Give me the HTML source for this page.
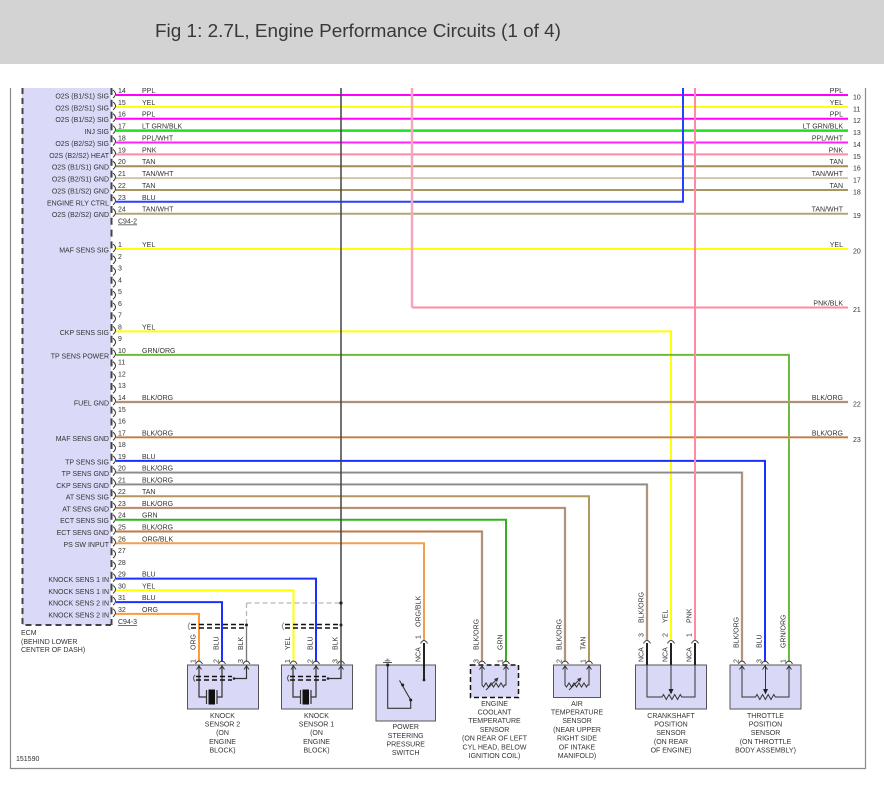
<!DOCTYPE html>
<html><head><meta charset="utf-8"><style>
html,body{margin:0;padding:0;background:#fff;}
svg{display:block;}
text{font-family:"Liberation Sans",Arial,sans-serif;fill:#333;}
.s{font-size:7px;}
.m{font-size:7px;text-anchor:middle;}
.e{font-size:7px;text-anchor:end;}
</style></head><body>
<svg width="884" height="790" viewBox="0 0 884 790" xmlns="http://www.w3.org/2000/svg">
<rect width="884" height="790" fill="#fff"/>
<rect width="884" height="64" fill="#d3d3d3"/>
<text x="155" y="37" font-size="18" textLength="406" lengthAdjust="spacingAndGlyphs" style="fill:#383838">Fig 1: 2.7L, Engine Performance Circuits (1 of 4)</text>

<!-- frame -->
<path d="M10.5 88 V768.5 H865.5 V88" fill="none" stroke="#8a8a8a" stroke-width="1.2"/>

<!-- ECM box -->
<rect x="22" y="88" width="89" height="537" fill="#dadaf8"/>
<path d="M22.5 88 V625 H111" fill="none" stroke="#444" stroke-width="2" stroke-dasharray="6,4"/>
<path d="M111.5 88 V625" stroke="#444" stroke-width="2" stroke-dasharray="7,4.8"/>

<!-- horizontal wires block A -->
<g fill="none" stroke-width="2">
<path d="M116 95 H848" stroke="#ff00ff"/>
<path d="M116 106.9 H848" stroke="#ffff00"/>
<path d="M116 118.7 H848" stroke="#ff00ff"/>
<path d="M116 130.6 H848" stroke="#22dd22" stroke-width="2.5"/>
<path d="M116 142.5 H848" stroke="#ff22ff"/>
<path d="M116 154.4 H848" stroke="#ff8aa5"/>
<path d="M116 166.2 H848" stroke="#a48c5c"/>
<path d="M116 178.1 H848" stroke="#cfc5a8"/>
<path d="M116 190 H848" stroke="#a89660"/>
<path d="M116 201.8 H683 V88" stroke="#2840ff"/>
<path d="M116 213.7 H848" stroke="#b4a47a"/>
</g>

<!-- horizontal wires block B -->
<g fill="none" stroke-width="2">
<path d="M116 249 H848" stroke="#ffff00"/>
<path d="M412 307.5 H848" stroke="#ff8aa5"/>
<path d="M116 331.4 H671 V641" stroke="#ffff00"/>
<path d="M116 354.9 H789 V662" stroke="#6cbb3c"/>
<path d="M116 460.9 H765 V662" stroke="#1a30ff"/>
<path d="M116 496.2 H589 V662" stroke="#b09860"/>
<path d="M116 519.7 H506 V662" stroke="#33b020"/>
<path d="M116 543.3 H424 V641" stroke="#f0a050"/>
<path d="M116 578.6 H316 V662" stroke="#1a30ff"/>
<path d="M116 590.4 H293.5 V662" stroke="#ffff00"/>
<path d="M116 602.1 H222 V662" stroke="#1a30ff"/>
<path d="M116 613.9 H199 V662" stroke="#ff9a3a"/>
<!-- BLK/ORG -->
<g stroke="#f4b07a" stroke-width="2.4">
<path d="M116 402 H848"/><path d="M116 437.3 H848"/>
<path d="M116 472.6 H742 V662"/><path d="M116 484.4 H647 V641"/>
<path d="M116 507.9 H565 V662"/><path d="M116 531.5 H482 V662"/>
</g>
<g stroke="#8a8a8a" stroke-width="1.4">
<path d="M116 402 H848"/><path d="M116 437.3 H848"/>
<path d="M116 472.6 H742 V662"/><path d="M116 484.4 H647 V641"/>
<path d="M116 507.9 H565 V662"/><path d="M116 531.5 H482 V662"/>
</g>
</g>

<!-- verticals -->
<path d="M341 88 V665" stroke="#444" stroke-width="1.5"/>
<path d="M412 88 V307.5" stroke="#f3a9bb" stroke-width="2.5"/>
<path d="M695 88 V641" stroke="#ff8aa5" stroke-width="2"/>

<!-- connector brackets at ECM -->
<path fill="none" stroke="#333" stroke-width="1" d="M113 90 Q118 94 113 98 M113 101.9 Q118 105.9 113 109.9 M113 113.7 Q118 117.7 113 121.7 M113 125.6 Q118 129.6 113 133.6 M113 137.5 Q118 141.5 113 145.5 M113 149.4 Q118 153.4 113 157.4 M113 161.2 Q118 165.2 113 169.2 M113 173.1 Q118 177.1 113 181.1 M113 185 Q118 189 113 193 M113 196.8 Q118 200.8 113 204.8 M113 208.7 Q118 212.7 113 216.7
M113 244 Q118 248 113 252 M113 255.8 Q118 259.8 113 263.8 M113 267.5 Q118 271.5 113 275.5 M113 279.3 Q118 283.3 113 287.3 M113 291.1 Q118 295.1 113 299.1 M113 302.9 Q118 306.9 113 310.9 M113 314.6 Q118 318.6 113 322.6 M113 326.4 Q118 330.4 113 334.4 M113 338.2 Q118 342.2 113 346.2 M113 349.9 Q118 353.9 113 357.9 M113 361.7 Q118 365.7 113 369.7 M113 373.5 Q118 377.5 113 381.5 M113 385.2 Q118 389.2 113 393.2 M113 397 Q118 401 113 405 M113 408.8 Q118 412.8 113 416.8 M113 420.6 Q118 424.6 113 428.6 M113 432.3 Q118 436.3 113 440.3 M113 444.1 Q118 448.1 113 452.1 M113 455.9 Q118 459.9 113 463.9 M113 467.6 Q118 471.6 113 475.6 M113 479.4 Q118 483.4 113 487.4 M113 491.2 Q118 495.2 113 499.2 M113 502.9 Q118 506.9 113 510.9 M113 514.7 Q118 518.7 113 522.7 M113 526.5 Q118 530.5 113 534.5 M113 538.3 Q118 542.3 113 546.3 M113 550 Q118 554 113 558 M113 561.8 Q118 565.8 113 569.8 M113 573.6 Q118 577.6 113 581.6 M113 585.4 Q118 589.4 113 593.4 M113 597.1 Q118 601.1 113 605.1 M113 608.9 Q118 612.9 113 616.9"/>

<!-- pin numbers -->
<g class="s">
<text class="s" x="118" y="93">14</text><text class="s" x="118" y="104.9">15</text><text class="s" x="118" y="116.7">16</text><text class="s" x="118" y="128.6">17</text><text class="s" x="118" y="140.5">18</text><text class="s" x="118" y="152.4">19</text><text class="s" x="118" y="164.2">20</text><text class="s" x="118" y="176.1">21</text><text class="s" x="118" y="188">22</text><text class="s" x="118" y="199.8">23</text><text class="s" x="118" y="211.7">24</text>
<text class="s" x="118" y="247">1</text><text class="s" x="118" y="258.8">2</text><text class="s" x="118" y="270.5">3</text><text class="s" x="118" y="282.3">4</text><text class="s" x="118" y="294.1">5</text><text class="s" x="118" y="305.9">6</text><text class="s" x="118" y="317.6">7</text><text class="s" x="118" y="329.4">8</text><text class="s" x="118" y="341.2">9</text><text class="s" x="118" y="352.9">10</text><text class="s" x="118" y="364.7">11</text><text class="s" x="118" y="376.5">12</text><text class="s" x="118" y="388.2">13</text><text class="s" x="118" y="400">14</text><text class="s" x="118" y="411.8">15</text><text class="s" x="118" y="423.6">16</text><text class="s" x="118" y="435.3">17</text><text class="s" x="118" y="447.1">18</text><text class="s" x="118" y="458.9">19</text><text class="s" x="118" y="470.6">20</text><text class="s" x="118" y="482.4">21</text><text class="s" x="118" y="494.2">22</text><text class="s" x="118" y="505.9">23</text><text class="s" x="118" y="517.7">24</text><text class="s" x="118" y="529.5">25</text><text class="s" x="118" y="541.3">26</text><text class="s" x="118" y="553">27</text><text class="s" x="118" y="564.8">28</text><text class="s" x="118" y="576.6">29</text><text class="s" x="118" y="588.4">30</text><text class="s" x="118" y="600.1">31</text><text class="s" x="118" y="611.9">32</text>
</g>

<!-- wire labels left -->
<text class="s" x="142" y="93">PPL</text><text class="s" x="142" y="104.9">YEL</text><text class="s" x="142" y="116.7">PPL</text><text class="s" x="142" y="128.6">LT GRN/BLK</text><text class="s" x="142" y="140.5">PPL/WHT</text><text class="s" x="142" y="152.4">PNK</text><text class="s" x="142" y="164.2">TAN</text><text class="s" x="142" y="176.1">TAN/WHT</text><text class="s" x="142" y="188">TAN</text><text class="s" x="142" y="199.8">BLU</text><text class="s" x="142" y="211.7">TAN/WHT</text>
<text class="s" x="142" y="247">YEL</text><text class="s" x="142" y="329.4">YEL</text><text class="s" x="142" y="352.9">GRN/ORG</text><text class="s" x="142" y="400">BLK/ORG</text><text class="s" x="142" y="435.3">BLK/ORG</text><text class="s" x="142" y="458.9">BLU</text><text class="s" x="142" y="470.6">BLK/ORG</text><text class="s" x="142" y="482.4">BLK/ORG</text><text class="s" x="142" y="494.2">TAN</text><text class="s" x="142" y="505.9">BLK/ORG</text><text class="s" x="142" y="517.7">GRN</text><text class="s" x="142" y="529.5">BLK/ORG</text><text class="s" x="142" y="541.3">ORG/BLK</text><text class="s" x="142" y="576.6">BLU</text><text class="s" x="142" y="588.4">YEL</text><text class="s" x="142" y="600.1">BLU</text><text class="s" x="142" y="611.9">ORG</text>

<text class="s" x="118" y="223.5" text-decoration="underline">C94-2</text>
<text class="s" x="118" y="624.2" text-decoration="underline">C94-3</text>

<!-- ECM labels -->
<text class="e" x="109" y="98.5">O2S (B1/S1) SIG</text><text class="e" x="109" y="110.4">O2S (B2/S1) SIG</text><text class="e" x="109" y="122.2">O2S (B1/S2) SIG</text><text class="e" x="109" y="134.1">INJ SIG</text><text class="e" x="109" y="146">O2S (B2/S2) SIG</text><text class="e" x="109" y="157.9">O2S (B2/S2) HEAT</text><text class="e" x="109" y="169.7">O2S (B1/S1) GND</text><text class="e" x="109" y="181.6">O2S (B2/S1) GND</text><text class="e" x="109" y="193.5">O2S (B1/S2) GND</text><text class="e" x="109" y="205.3">ENGINE RLY CTRL</text><text class="e" x="109" y="217.2">O2S (B2/S2) GND</text>
<text class="e" x="109" y="252.5">MAF SENS SIG</text><text class="e" x="109" y="334.9">CKP SENS SIG</text><text class="e" x="109" y="358.4">TP SENS POWER</text><text class="e" x="109" y="405.5">FUEL GND</text><text class="e" x="109" y="440.8">MAF SENS GND</text><text class="e" x="109" y="464.4">TP SENS SIG</text><text class="e" x="109" y="476.1">TP SENS GND</text><text class="e" x="109" y="487.9">CKP SENS GND</text><text class="e" x="109" y="499.7">AT SENS SIG</text><text class="e" x="109" y="511.4">AT SENS GND</text><text class="e" x="109" y="523.2">ECT SENS SIG</text><text class="e" x="109" y="535">ECT SENS GND</text><text class="e" x="109" y="546.8">PS SW INPUT</text><text class="e" x="109" y="582.1">KNOCK SENS 1 IN</text><text class="e" x="109" y="593.9">KNOCK SENS 1 IN</text><text class="e" x="109" y="605.6">KNOCK SENS 2 IN</text><text class="e" x="109" y="617.4">KNOCK SENS 2 IN</text>

<text class="s" x="21" y="634.8">ECM</text>
<text class="s" x="21" y="643.8">(BEHIND LOWER</text>
<text class="s" x="21" y="652.2">CENTER OF DASH)</text>

<!-- right labels -->
<text class="e" x="843" y="93">PPL</text><text class="e" x="843" y="104.9">YEL</text><text class="e" x="843" y="116.7">PPL</text><text class="e" x="843" y="128.6">LT GRN/BLK</text><text class="e" x="843" y="140.5">PPL/WHT</text><text class="e" x="843" y="152.4">PNK</text><text class="e" x="843" y="164.2">TAN</text><text class="e" x="843" y="176.1">TAN/WHT</text><text class="e" x="843" y="188">TAN</text><text class="e" x="843" y="211.7">TAN/WHT</text><text class="e" x="843" y="247">YEL</text><text class="e" x="843" y="305.5">PNK/BLK</text><text class="e" x="843" y="400">BLK/ORG</text><text class="e" x="843" y="435.3">BLK/ORG</text>
<text class="s" x="853" y="99.5">10</text><text class="s" x="853" y="111.4">11</text><text class="s" x="853" y="123.2">12</text><text class="s" x="853" y="135.1">13</text><text class="s" x="853" y="147">14</text><text class="s" x="853" y="158.9">15</text><text class="s" x="853" y="170.7">16</text><text class="s" x="853" y="182.6">17</text><text class="s" x="853" y="194.5">18</text><text class="s" x="853" y="218.2">19</text><text class="s" x="853" y="253.5">20</text><text class="s" x="853" y="312">21</text><text class="s" x="853" y="406.5">22</text><text class="s" x="853" y="441.8">23</text>

<!-- knock sensor shields outside -->
<path d="M246.5 603 H341 M246.5 603 V625" fill="none" stroke="#b8b8b8" stroke-width="1.3" stroke-dasharray="5,3"/>
<circle cx="341" cy="603" r="1.6" fill="#222"/>
<path d="M191 624.5 H246.5 M191 628 H246.5 M285 624.5 H341 M285 628 H341" stroke="#111" stroke-width="1.6" stroke-dasharray="5,3"/>
<path d="M190 622.5 Q186.5 626.25 190 630 M284 622.5 Q280.5 626.25 284 630" fill="none" stroke="#999"/>
<circle cx="246.5" cy="625" r="1.5" fill="#222"/>
<circle cx="341" cy="625" r="1.5" fill="#222"/>
<path d="M246.5 626 V662" stroke="#777" stroke-width="1.3"/>

<!-- sensor boxes -->
<g fill="#d9d9f7" stroke="#555" stroke-width="1">
<rect x="187.5" y="665" width="71" height="44"/>
<rect x="281.5" y="665" width="71" height="44"/>
<rect x="376" y="665" width="59.5" height="56"/>
<rect x="553.5" y="665" width="47" height="32.5"/>
<rect x="635.5" y="665" width="71" height="44"/>
<rect x="730" y="665" width="71" height="44"/>
</g>
<rect x="470.5" y="665" width="48" height="32.5" fill="#d9d9f7" stroke="#111" stroke-width="1.5" stroke-dasharray="5,3"/>

<!-- connector caps at box tops -->
<path fill="none" stroke="#444" stroke-width="1" d="M195.5 664 Q199 658 202.5 664 M218.5 664 Q222 658 225.5 664 M243 664 Q246.5 658 250 664 M290 664 Q293.5 658 297 664 M312.5 664 Q316 658 319.5 664 M337.5 664 Q341 658 344.5 664 M478.5 664 Q482 658 485.5 664 M502.5 664 Q506 658 509.5 664 M561.5 664 Q565 658 568.5 664 M585.5 664 Q589 658 592.5 664 M738.5 664 Q742 658 745.5 664 M761.5 664 Q765 658 768.5 664 M785.5 664 Q789 658 792.5 664
M420.5 643.5 Q424 637.5 427.5 643.5 M643.5 643.5 Q647 637.5 650.5 643.5 M667.5 643.5 Q671 637.5 674.5 643.5 M691.5 643.5 Q695 637.5 698.5 643.5"/>
<!-- arrows into boxes -->
<path fill="none" stroke="#333" stroke-width="1" d="M196.5 669.5 L199 666 L201.5 669.5 M219.5 669.5 L222 666 L224.5 669.5 M244 669.5 L246.5 666 L249 669.5 M291 669.5 L293.5 666 L296 669.5 M313.5 669.5 L316 666 L318.5 669.5 M338.5 669.5 L341 666 L343.5 669.5 M479.5 669.5 L482 666 L484.5 669.5 M503.5 669.5 L506 666 L508.5 669.5 M562.5 669.5 L565 666 L567.5 669.5 M586.5 669.5 L589 666 L591.5 669.5 M739.5 669.5 L742 666 L744.5 669.5 M762.5 669.5 L765 666 L767.5 669.5 M786.5 669.5 L789 666 L791.5 669.5"/>

<!-- black NCA wires -->
<path d="M424 643 V680 M647 643 V665 M671 643 V665 M695 643 V665" stroke="#222" stroke-width="2"/>

<!-- knock sensor internals -->
<g fill="none" stroke="#333" stroke-width="1.2">
<path d="M199 665 V697 H206.5 M206.5 690 V704 M217 690 V704 M217 697 H222 V665 M234 678.5 H246.5 V665"/>
<path d="M293 665 V697 H300.5 M300.5 690 V704 M311 690 V704 M311 697 H316 V665 M328 678.5 H341 V665"/>
</g>
<rect x="208.5" y="689.5" width="6.5" height="15" fill="#111"/>
<rect x="302.5" y="689.5" width="6.5" height="15" fill="#111"/>
<path d="M196 676.5 H232 M196 680 H232 M290 676.5 H326 M290 680 H326" stroke="#111" stroke-width="1.6" stroke-dasharray="5,3"/>
<path d="M195 675 Q192 678.25 195 681.5 M289 675 Q286 678.25 289 681.5" fill="none" stroke="#555"/>
<circle cx="234" cy="678.5" r="1.3" fill="#222"/>
<circle cx="328" cy="678.5" r="1.3" fill="#222"/>

<!-- PS switch internals -->
<path d="M383 662.5 H392 M384.8 660.8 H390.2 M386.5 659.2 H388.5" stroke="#555" stroke-width="0.9"/>
<path d="M387.7 665 V708.3 H410.7 V700 M399.5 680.5 L411 700.5" fill="none" stroke="#333" stroke-width="1.1"/>
<circle cx="387.7" cy="665" r="1.6" fill="#222"/>
<circle cx="410.7" cy="700" r="1.5" fill="#222"/>
<circle cx="402.7" cy="685" r="1.5" fill="#222"/>
<circle cx="424" cy="680" r="1.4" fill="#222"/>

<!-- ECT / AIR internals -->
<g fill="none" stroke="#333" stroke-width="1">
<path d="M482 665 V685 l1.5,2 l2.5,-4 l2.5,4 l2.5,-4 l2.5,4 l2.5,-4 l2.5,4 l2.5,-4 l2.5,4 l1,-2 H506 V665"/>
<path d="M486 690 L497 679"/>
<path d="M565 665 V685 l1.5,2 l2.5,-4 l2.5,4 l2.5,-4 l2.5,4 l2.5,-4 l2.5,4 l2.5,-4 l2.5,4 l1,-2 H589 V665"/>
<path d="M569 690 L580 679"/>
</g>
<path d="M494 679 L498.5 677.5 L497 682 Z M577 679 L581.5 677.5 L580 682 Z" fill="#333"/>

<!-- crank / throttle internals -->
<g fill="none" stroke="#333" stroke-width="1">
<path d="M647 665 V697 H662 l1.5,-2.5 l2.8,5 l2.8,-5 l2.8,5 l2.8,-5 l2.8,5 l2.8,-5 l1.5,2.5 H695 V665"/>
<path d="M671 665 V690"/>
<path d="M742 665 V697 H755.5 l1.5,-2.5 l2.8,5 l2.8,-5 l2.8,5 l2.8,-5 l2.8,5 l2.8,-5 l1.5,2.5 H789 V665"/>
<path d="M765.5 665 V690"/>
</g>
<path d="M668.5 689 L671 694.5 L673.5 689 Z M763 689 L765.5 694.5 L768 689 Z" fill="#222"/>

<!-- rotated wire labels -->
<g font-size="7">
<text transform="translate(195.5,650) rotate(-90)">ORG</text>
<text transform="translate(218.5,650) rotate(-90)">BLU</text>
<text transform="translate(243,650) rotate(-90)">BLK</text>
<text transform="translate(195.5,663) rotate(-90)">1</text>
<text transform="translate(218.5,663) rotate(-90)">2</text>
<text transform="translate(243,663) rotate(-90)">3</text>
<text transform="translate(290,650) rotate(-90)">YEL</text>
<text transform="translate(312.5,650) rotate(-90)">BLU</text>
<text transform="translate(337.5,650) rotate(-90)">BLK</text>
<text transform="translate(290,663) rotate(-90)">1</text>
<text transform="translate(312.5,663) rotate(-90)">2</text>
<text transform="translate(337.5,663) rotate(-90)">3</text>
<text transform="translate(420.5,627) rotate(-90)">ORG/BLK</text>
<text transform="translate(420.5,639) rotate(-90)">1</text>
<text transform="translate(420.5,662) rotate(-90)">NCA</text>
<text transform="translate(478.5,650) rotate(-90)">BLK/ORG</text>
<text transform="translate(502.5,650) rotate(-90)">GRN</text>
<text transform="translate(478.5,663) rotate(-90)">3</text>
<text transform="translate(502.5,663) rotate(-90)">1</text>
<text transform="translate(561.5,650) rotate(-90)">BLK/ORG</text>
<text transform="translate(585.5,650) rotate(-90)">TAN</text>
<text transform="translate(561.5,663) rotate(-90)">2</text>
<text transform="translate(585.5,663) rotate(-90)">1</text>
<text transform="translate(643.5,623) rotate(-90)">BLK/ORG</text>
<text transform="translate(667.5,623) rotate(-90)">YEL</text>
<text transform="translate(691.5,623) rotate(-90)">PNK</text>
<text transform="translate(643.5,637) rotate(-90)">3</text>
<text transform="translate(667.5,637) rotate(-90)">2</text>
<text transform="translate(691.5,637) rotate(-90)">1</text>
<text transform="translate(643.5,662) rotate(-90)">NCA</text>
<text transform="translate(667.5,662) rotate(-90)">NCA</text>
<text transform="translate(691.5,662) rotate(-90)">NCA</text>
<text transform="translate(738.5,648) rotate(-90)">BLK/ORG</text>
<text transform="translate(761.5,648) rotate(-90)">BLU</text>
<text transform="translate(785.5,648) rotate(-90)">GRN/ORG</text>
<text transform="translate(738.5,663) rotate(-90)">2</text>
<text transform="translate(761.5,663) rotate(-90)">3</text>
<text transform="translate(785.5,663) rotate(-90)">1</text>
</g>

<!-- sensor captions -->
<text class="m" x="222.5" y="718">KNOCK</text><text class="m" x="222.5" y="726.6">SENSOR 2</text><text class="m" x="222.5" y="735.2">(ON</text><text class="m" x="222.5" y="743.8">ENGINE</text><text class="m" x="222.5" y="752.4">BLOCK)</text>
<text class="m" x="316.5" y="718">KNOCK</text><text class="m" x="316.5" y="726.6">SENSOR 1</text><text class="m" x="316.5" y="735.2">(ON</text><text class="m" x="316.5" y="743.8">ENGINE</text><text class="m" x="316.5" y="752.4">BLOCK)</text>
<text class="m" x="405.7" y="729.2">POWER</text><text class="m" x="405.7" y="737.8">STEERING</text><text class="m" x="405.7" y="746.4">PRESSURE</text><text class="m" x="405.7" y="755">SWITCH</text>
<text class="m" x="494.5" y="705.8">ENGINE</text><text class="m" x="494.5" y="714.5">COOLANT</text><text class="m" x="494.5" y="723.2">TEMPERATURE</text><text class="m" x="494.5" y="731.9">SENSOR</text><text class="m" x="494.5" y="740.6">(ON REAR OF LEFT</text><text class="m" x="494.5" y="749.3">CYL HEAD, BELOW</text><text class="m" x="494.5" y="758">IGNITION COIL)</text>
<text class="m" x="577" y="705.8">AIR</text><text class="m" x="577" y="714.5">TEMPERATURE</text><text class="m" x="577" y="723.2">SENSOR</text><text class="m" x="577" y="731.9">(NEAR UPPER</text><text class="m" x="577" y="740.6">RIGHT SIDE</text><text class="m" x="577" y="749.3">OF INTAKE</text><text class="m" x="577" y="758">MANIFOLD)</text>
<text class="m" x="671" y="718">CRANKSHAFT</text><text class="m" x="671" y="726.6">POSITION</text><text class="m" x="671" y="735.2">SENSOR</text><text class="m" x="671" y="743.8">(ON REAR</text><text class="m" x="671" y="752.4">OF ENGINE)</text>
<text class="m" x="765.5" y="718">THROTTLE</text><text class="m" x="765.5" y="726.6">POSITION</text><text class="m" x="765.5" y="735.2">SENSOR</text><text class="m" x="765.5" y="743.8">(ON THROTTLE</text><text class="m" x="765.5" y="752.4">BODY ASSEMBLY)</text>

<text class="s" x="16" y="761">151590</text>
</svg>
</body></html>
